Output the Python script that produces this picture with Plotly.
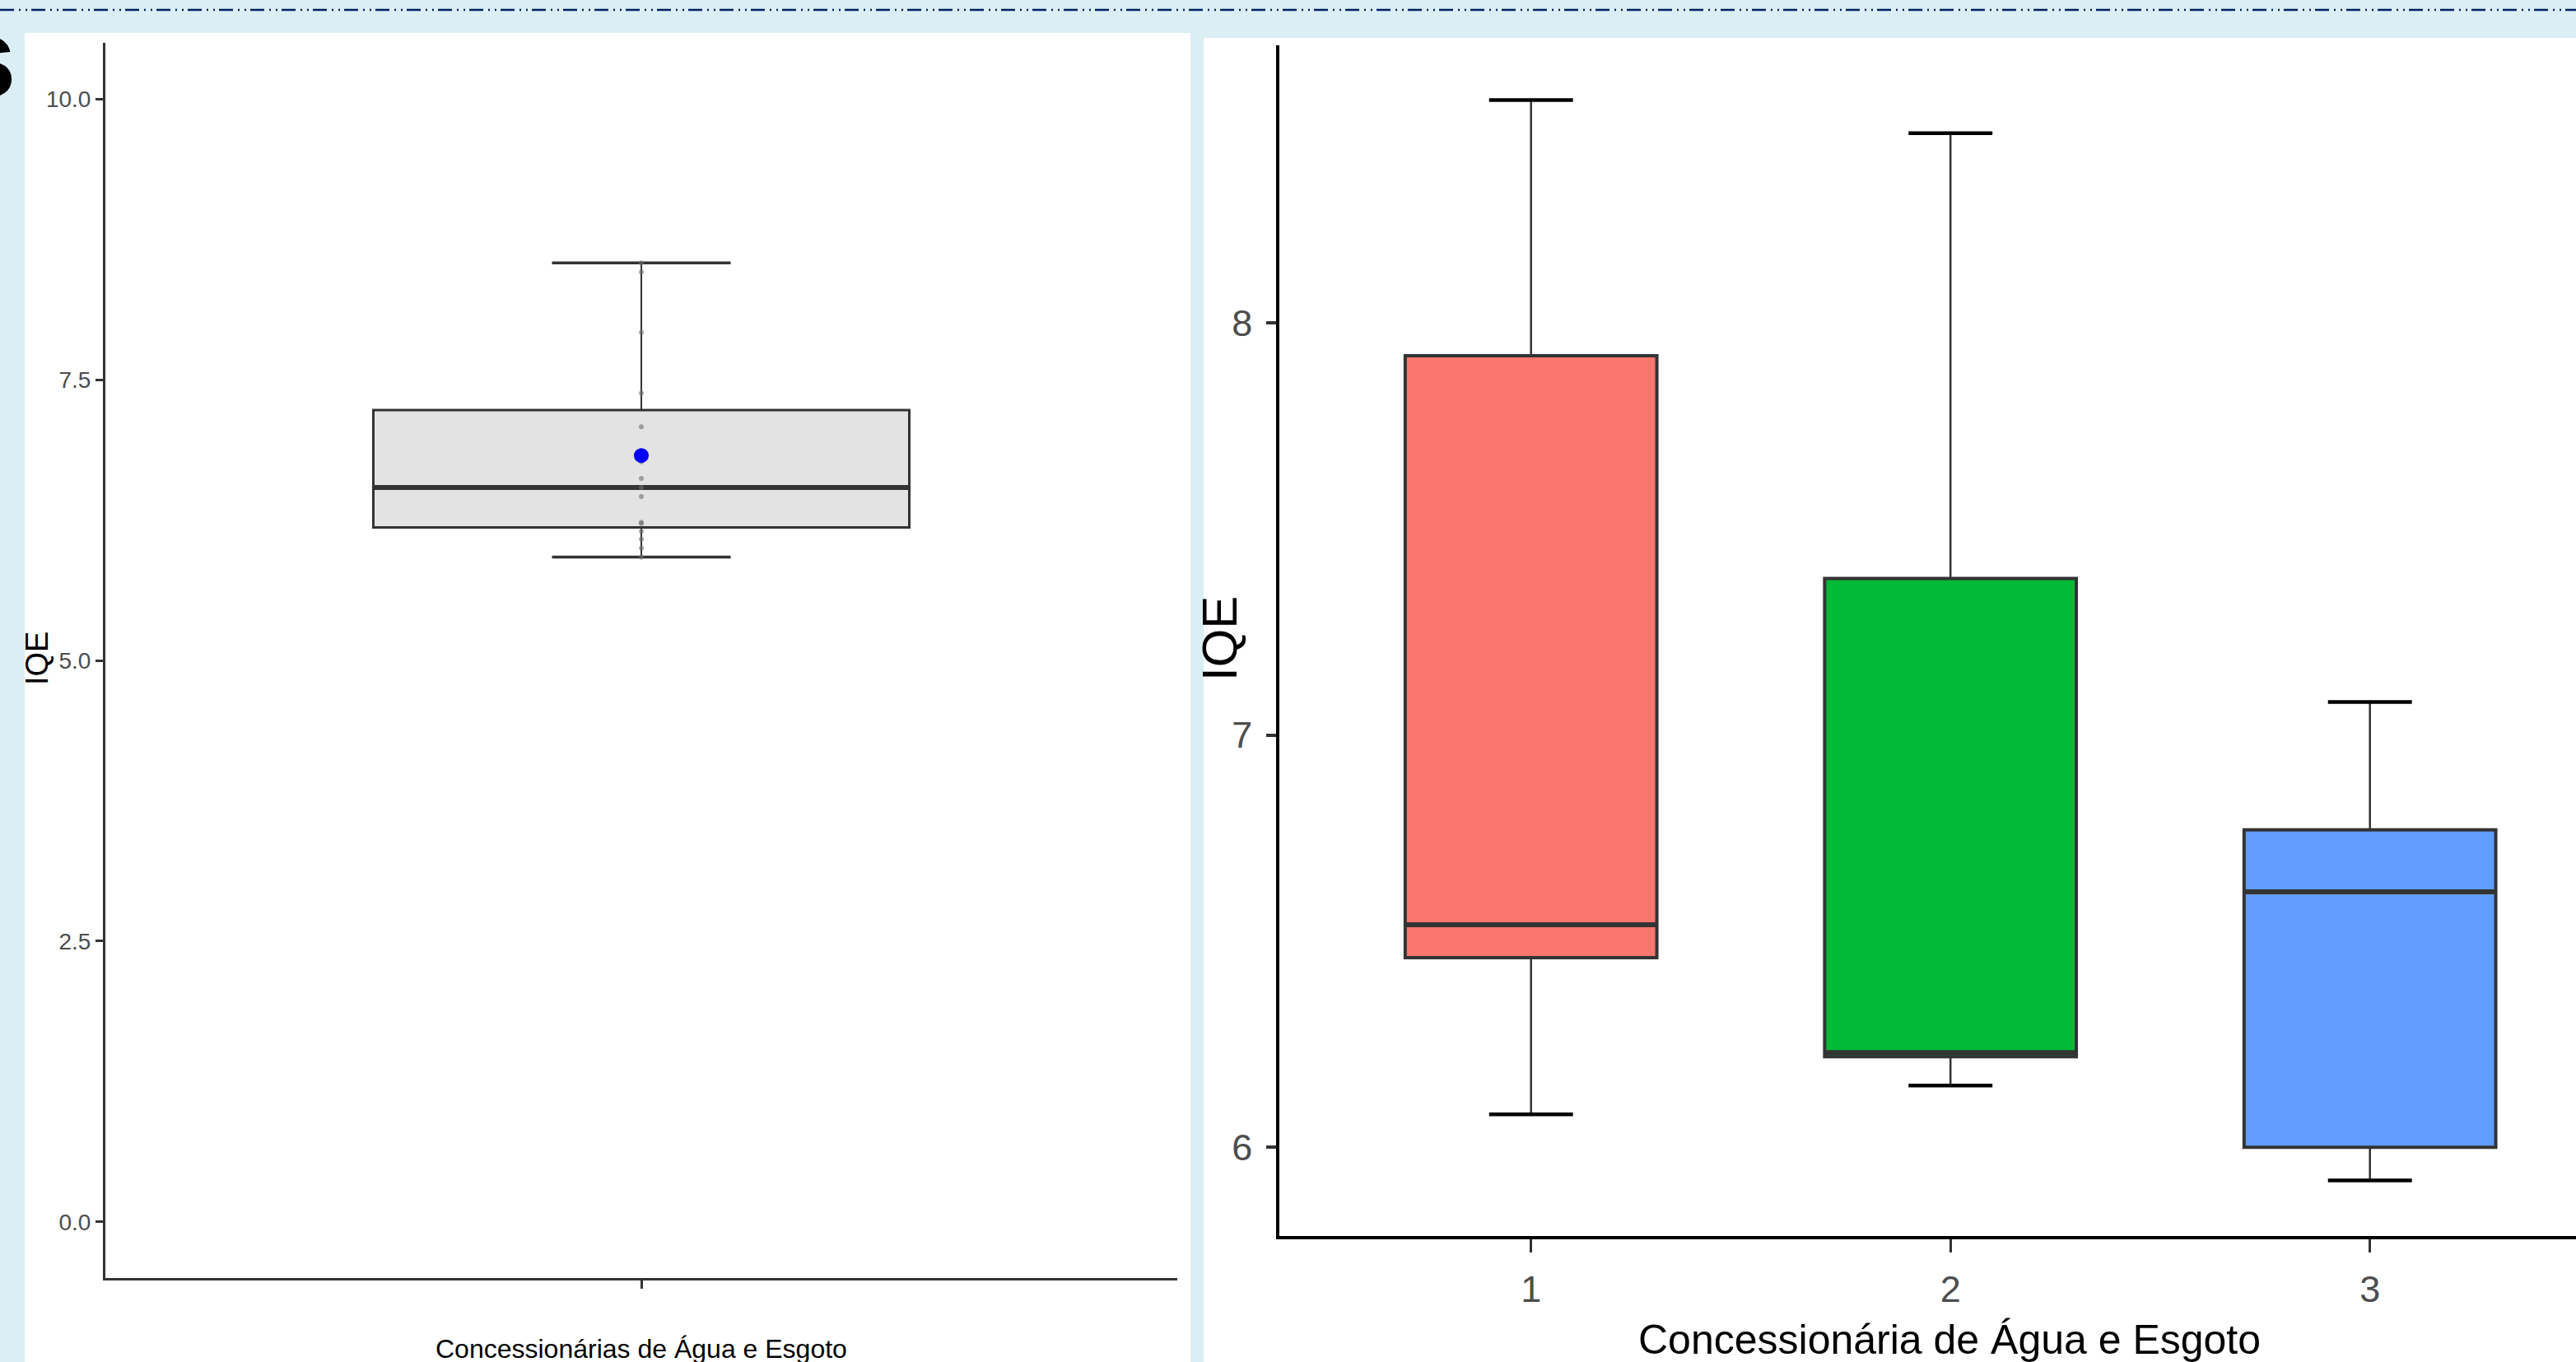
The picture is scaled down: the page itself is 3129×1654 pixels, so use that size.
import numpy as np
import plotly.graph_objects as go

# ---------------- data ----------------
group_labels = ["1", "2", "3"]
group_pos = [1, 2, 3]
iqe_g1 = [6.08, 6.46, 6.54, 7.92, 8.54]
iqe_g2 = [6.15, 6.22, 6.23, 7.38, 8.46]
iqe_g3 = [5.92, 6.00, 6.62, 6.77, 7.08]
group_colors = ["#F8766D", "#00BA38", "#619CFF"]
left_yticks = [0, 2.5, 5, 7.5, 10]
left_yticklabels = ["0.0", "2.5", "5.0", "7.5", "10.0"]
right_yticks = [6, 7, 8]
right_yticklabels = ["6", "7", "8"]

W, H = 3129, 1654
BG = "#DBEEF4"
FONT = "Liberation Sans, Arial, sans-serif"


def px(x):
    return x / W


def py(y):
    return 1 - y / H


def stats(v):
    a = np.asarray(v, dtype=float)
    return dict(mn=a.min(), q1=np.percentile(a, 25), med=np.percentile(a, 50),
                q3=np.percentile(a, 75), mx=a.max(), mean=a.mean())


fig = go.Figure()


def add_box(xpos, values, fill, xa, ya, box_w, cap_w, outline_w, med_w,
            whisk_w, cap_lw, cap_col, edge_col):
    s = stats(values)
    # whisker (errorbar) vertical lines, outside the box
    fig.add_trace(go.Scatter(x=[xpos, xpos, None, xpos, xpos],
                             y=[s["mn"], s["q1"], None, s["q3"], s["mx"]], mode="lines",
                             line=dict(color=edge_col, width=whisk_w),
                             xaxis=xa, yaxis=ya, hoverinfo="skip", showlegend=False))
    # caps
    fig.add_trace(go.Scatter(x=[xpos - cap_w / 2, xpos + cap_w / 2, None,
                                xpos - cap_w / 2, xpos + cap_w / 2],
                             y=[s["mn"], s["mn"], None, s["mx"], s["mx"]], mode="lines",
                             line=dict(color=cap_col, width=cap_lw),
                             xaxis=xa, yaxis=ya, hoverinfo="skip", showlegend=False))
    # box
    fig.add_trace(go.Box(x=[xpos], q1=[s["q1"]], median=[s["med"]], q3=[s["q3"]],
                         lowerfence=[s["q1"]], upperfence=[s["q3"]],
                         width=box_w, fillcolor=fill,
                         line=dict(color=edge_col, width=outline_w),
                         boxpoints=False, xaxis=xa, yaxis=ya, showlegend=False))
    # thick median
    fig.add_trace(go.Scatter(x=[xpos - box_w / 2, xpos + box_w / 2], y=[s["med"], s["med"]],
                             mode="lines", line=dict(color=edge_col, width=med_w),
                             xaxis=xa, yaxis=ya, hoverinfo="skip", showlegend=False))
    return s


# ---------- left panel: all concessionaires together ----------
all_values = iqe_g1 + iqe_g2 + iqe_g3
s_all = add_box(1, all_values, "#E3E3E3", "x", "y", 0.6, 0.2, 3, 6, 2, 3.5,
                "#333333", "#333333")
fig.add_trace(go.Scatter(x=[1] * len(all_values), y=all_values, mode="markers",
                         marker=dict(size=6, color="rgba(110,110,110,0.6)"),
                         xaxis="x", yaxis="y", showlegend=False))
fig.add_trace(go.Scatter(x=[1], y=[s_all["mean"]], mode="markers",
                         marker=dict(size=18, color="#0000FF"),
                         xaxis="x", yaxis="y", showlegend=False))

# ---------- right panel: per concessionaire ----------
for pos, vals, col in zip(group_pos, [iqe_g1, iqe_g2, iqe_g3], group_colors):
    add_box(pos, vals, col, "x2", "y2", 0.6, 0.2, 4, 6, 2.5, 4.5, "#000000", "#333333")

# ---------------- layout ----------------
shapes = [
    dict(type="rect", xref="paper", yref="paper", x0=px(30), x1=px(1446), y0=0, y1=py(40),
         fillcolor="white", line=dict(width=0), layer="below"),
    dict(type="rect", xref="paper", yref="paper", x0=px(1462), x1=1, y0=0, y1=py(46),
         fillcolor="white", line=dict(width=0), layer="below"),
    dict(type="line", xref="paper", yref="paper", x0=0, x1=1, y0=py(12), y1=py(12),
         line=dict(color="#002060", width=2.5, dash="17px,6px,2px,6px,2px,5px")),
]

annotations = [
    dict(text="<b>s</b>", xref="paper", yref="paper", x=px(22), y=py(70),
         xanchor="right", yanchor="middle", showarrow=False,
         font=dict(family=FONT, size=138, color="black")),
    dict(text="Concessionárias de Água e Esgoto", xref="paper", yref="paper",
         x=px(779), y=py(1618), xanchor="center", yanchor="top", showarrow=False,
         font=dict(family=FONT, size=32, color="black")),
    dict(text="IQE", xref="paper", yref="paper", x=px(45), y=py(800), textangle=-90,
         xanchor="center", yanchor="middle", showarrow=False,
         font=dict(family=FONT, size=38, color="black")),
    dict(text="Concessionária de Água e Esgoto", xref="paper", yref="paper",
         x=px(2368), y=py(1597), xanchor="center", yanchor="top", showarrow=False,
         font=dict(family=FONT, size=50, color="black")),
    dict(text="IQE", xref="paper", yref="paper", x=px(1481), y=py(776), textangle=-90,
         xanchor="center", yanchor="middle", showarrow=False,
         font=dict(family=FONT, size=60, color="black")),
]

fig.update_layout(
    width=W, height=H, margin=dict(l=0, r=0, t=0, b=0),
    paper_bgcolor=BG, plot_bgcolor="white", boxmode="overlay", showlegend=False,
    shapes=shapes, annotations=annotations,
    xaxis=dict(domain=[px(128), px(1430)], range=[0.4, 1.6], anchor="y",
               showline=True, linecolor="#333333", linewidth=3, mirror=False,
               showgrid=False, zeroline=False, ticks="outside", ticklen=10, tickwidth=2.5,
               tickcolor="#333333", tickvals=[1], ticktext=[""], fixedrange=True),
    yaxis=dict(domain=[py(1552), py(52)], range=[-0.5, 10.5], anchor="x",
               showline=True, linecolor="#333333", linewidth=3,
               showgrid=False, zeroline=False, ticks="outside", ticklen=9, tickwidth=2.5,
               tickcolor="#333333", tickvals=left_yticks, ticktext=left_yticklabels,
               tickfont=dict(family=FONT, size=28, color="#4D4D4D"), ticklabelstandoff=0),
    xaxis2=dict(domain=[px(1554), 1.0], range=[0.4, 0.4 + (W - 1554) / 509.5], anchor="y2",
                showline=True, linecolor="black", linewidth=4,
                showgrid=False, zeroline=False, ticks="outside", ticklen=16, tickwidth=2.5,
                tickcolor="#333333", tickvals=group_pos, ticktext=group_labels,
                tickfont=dict(family=FONT, size=45, color="#4D4D4D"), ticklabelstandoff=6),
    yaxis2=dict(domain=[py(1501), py(55)], range=[5.785, 8.673], anchor="x2",
                showline=True, linecolor="black", linewidth=3.5,
                showgrid=False, zeroline=False, ticks="outside", ticklen=12, tickwidth=3.5,
                tickcolor="#333333", tickvals=right_yticks, ticktext=right_yticklabels,
                tickfont=dict(family=FONT, size=45, color="#4D4D4D"), ticklabelstandoff=8),
)

fig.write_html("out.html", config={"displayModeBar": False},
               post_script="document.body.style.margin='0px';document.body.style.overflow='hidden';")
